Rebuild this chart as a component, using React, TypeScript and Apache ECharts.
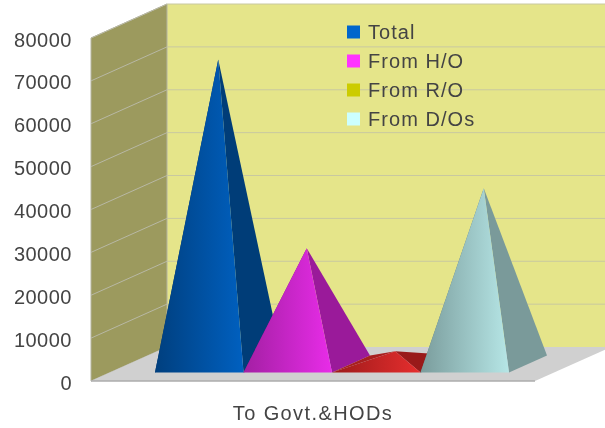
import React, { useEffect, useRef } from "react";
import * as echarts from "echarts";

const categories = ["To Govt.&HODs"];
const seriesNames = ["Total", "From H/O", "From R/O", "From D/Os"];
const total = [71000];
const fromHO = [27000];
const fromRO = [3000];
const fromDOs = [41000];
const seriesValues = [total, fromHO, fromRO, fromDOs];
const yTicks = [0, 10000, 20000, 30000, 40000, 50000, 60000, 70000, 80000];
const legendColors = ["#0066cc", "#ff33ff", "#cccc00", "#ccffff"];
const frontDark = ["#003f7e", "#a31fa3", "#9c1a1a", "#7a9c9c"];
const frontLight = ["#0060c0", "#e82ce8", "#e62e2e", "#b6e6e6"];
const sideColors = ["#003d78", "#9a1a9a", "#991a1a", "#7a9a9a"];
const leftColors = ["#003060", "#7a147a", "#a81f1f", "#5c7676"];

const DX = 76;
const DY = -34;
const BAR_W = 88.5;

function frameRender(_: any, api: any) {
  const bl = api.coord([0, 0]);
  const tl = api.coord([0, 80000]);
  const size = api.size([1, 0]);
  const x0 = bl[0] - size[0] / 2;
  const x1 = bl[0] + size[0] / 2;
  const y0 = bl[1];
  const y1 = tl[1];
  const children: any[] = [
    { type: "polygon", shape: { points: [[x0 + DX, y1 + DY], [x1 + DX, y1 + DY], [x1 + DX, y0 + DY], [x0 + DX, y0 + DY]] }, style: { fill: "#e5e58a" } },
    { type: "polygon", shape: { points: [[x0, y1], [x0 + DX, y1 + DY], [x0 + DX, y0 + DY], [x0, y0]] }, style: { fill: "#9c9a5e", stroke: "#b4b4a0", lineWidth: 1 } },
    { type: "polygon", shape: { points: [[x0, y0], [x1, y0], [x1 + DX, y0 + DY], [x0 + DX, y0 + DY]] }, style: { fill: "#d0d0d0" } },
    { type: "line", shape: { x1: x0, y1: y0, x2: x1, y2: y0 }, style: { stroke: "#acacac", lineWidth: 1.5 } },
  ];
  yTicks.forEach((t) => {
    const y = api.coord([0, t])[1];
    if (t > 0) {
      children.push({ type: "line", shape: { x1: x0 + DX, y1: y + DY, x2: x1 + DX, y2: y + DY }, style: { stroke: "#c8c8a0", lineWidth: 1 } });
      children.push({ type: "line", shape: { x1: x0, y1: y, x2: x0 + DX, y2: y + DY }, style: { stroke: "#b8b8a4", lineWidth: 1 } });
    }
  });
  return { type: "group", children };
}

function pyramidRender(index: number) {
  return (_: any, api: any) => {
    const base = api.coord([0, 0]);
    const top = api.coord([0, api.value(1)]);
    const cx = base[0] + DX / 4 + (index - 2) * BAR_W;
    const fy = base[1] + DY / 4;
    const fl: number[] = [cx, fy];
    const fr: number[] = [cx + BAR_W, fy];
    const bl: number[] = [cx + DX / 2, fy + DY / 2];
    const br: number[] = [cx + BAR_W + DX / 2, fy + DY / 2];
    const apex: number[] = [cx + BAR_W / 2 + DX / 4, top[1] + DY / 2];
    return {
      type: "group",
      children: [
        { type: "polygon", shape: { points: [fl, bl, apex] }, style: { fill: leftColors[index] } },
        { type: "polygon", shape: { points: [fr, br, apex] }, style: { fill: sideColors[index] } },
        {
          type: "polygon",
          shape: { points: [fl, fr, apex] },
          style: {
            fill: new echarts.graphic.LinearGradient(0, 0, 1, 0, [
              { offset: 0, color: frontDark[index] },
              { offset: 1, color: frontLight[index] },
            ]),
          },
        },
      ],
    };
  };
}

export default function App() {
  const ref = useRef<HTMLDivElement>(null);
  useEffect(() => {
    if (!ref.current) return;
    const chart = echarts.init(ref.current, undefined, { renderer: "svg" });
    const font = "'Liberation Sans', Arial, sans-serif";
    const spaceTexts = () => {
      ref.current?.querySelectorAll("text").forEach((el) => {
        const s = el.textContent || "";
        let spacing = 0.5;
        if (categories.includes(s)) spacing = 1.4;
        else if (seriesNames.includes(s)) spacing = 1.05;
        (el as unknown as HTMLElement).style.letterSpacing = spacing + "px";
      });
    };
    chart.on("finished", spaceTexts);
    chart.setOption({
      animation: false,
      grid: { left: 91, right: 70, top: 38, bottom: 47, containLabel: false },
      legend: {
        orient: "vertical",
        left: 347,
        top: 21,
        padding: 0,
        icon: "rect",
        itemWidth: 13,
        itemHeight: 13,
        itemGap: 7,
        data: seriesNames.map((name, i) => ({ name, itemStyle: { color: legendColors[i] } })),
        textStyle: { fontFamily: font, fontSize: 20, lineHeight: 20, color: "#444444", padding: [2, 0, 0, 3] },
      },
      xAxis: {
        type: "category",
        data: categories,
        axisLine: { show: false },
        axisTick: { show: false },
        splitLine: { show: false },
        axisLabel: { fontFamily: font, fontSize: 20, color: "#444444", margin: 22 },
      },
      yAxis: {
        type: "value",
        min: 0,
        max: 80000,
        interval: 10000,
        axisLine: { show: false },
        axisTick: { show: false },
        splitLine: { show: false },
        axisLabel: {
          fontFamily: font,
          fontSize: 20,
          color: "#444444",
          margin: 19,
          verticalAlign: "top",
          lineHeight: 3,
          formatter: (v: number) => String(v),
        },
      },
      series: [
        { type: "custom", name: "frame", silent: true, z: 1, renderItem: frameRender, data: [[0, 0]], encode: { x: 0, y: 1 } },
        ...seriesNames.map((name, i) => ({
          type: "custom",
          name,
          z: 2 + i,
          itemStyle: { color: legendColors[i] },
          renderItem: pyramidRender(i),
          data: seriesValues[i].map((v, c) => [c, v]),
          encode: { x: 0, y: 1 },
        })),
      ],
    });
    spaceTexts();
    return () => chart.dispose();
  }, []);
  return <div ref={ref} style={{ position: "fixed", left: 0, top: 0, width: 605, height: 428 }} />;
}
